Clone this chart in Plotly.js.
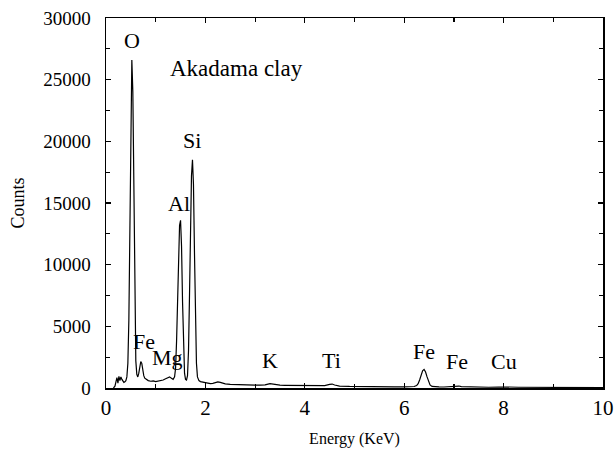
<!DOCTYPE html>
<html>
<head>
<meta charset="utf-8">
<script src="https://cdn.plot.ly/plotly-3.0.1.min.js"></script>
<style>
  html, body { margin: 0; padding: 0; background: #fff; }
  #chart { width: 616px; height: 454px; }
</style>
</head>
<body>
<div id="chart"></div>
<script>
// EDS spectrum of Akadama clay: energy (keV) vs counts
const energy = [
  0.15, 0.18, 0.20, 0.22, 0.24, 0.26, 0.28, 0.30, 0.32, 0.34, 0.36, 0.38, 0.40,
  0.42, 0.44, 0.46, 0.48, 0.50, 0.52, 0.54, 0.56, 0.58, 0.60, 0.62, 0.64, 0.66,
  0.68, 0.70, 0.72, 0.74, 0.76, 0.78, 0.80, 0.85, 0.90, 0.95, 1.00, 1.05, 1.10,
  1.15, 1.20, 1.25, 1.28, 1.31, 1.35, 1.38, 1.40, 1.42, 1.44, 1.46, 1.48, 1.50,
  1.52, 1.54, 1.56, 1.58, 1.60, 1.62, 1.64, 1.66, 1.68, 1.70, 1.72, 1.74, 1.76,
  1.78, 1.80, 1.82, 1.84, 1.87, 1.90, 1.95, 2.00, 2.05, 2.10, 2.15, 2.20, 2.25,
  2.30, 2.35, 2.40, 2.50, 2.60, 2.70, 2.80, 2.90, 3.00, 3.10, 3.20, 3.30, 3.35,
  3.40, 3.50, 3.60, 3.80, 4.00, 4.20, 4.40, 4.50, 4.55, 4.60, 4.70, 4.90, 5.00,
  5.20, 5.40, 5.60, 5.80, 6.00, 6.10, 6.20, 6.25, 6.28, 6.31, 6.34, 6.37, 6.40,
  6.43, 6.46, 6.49, 6.52, 6.56, 6.62, 6.70, 6.80, 6.90, 7.00, 7.05, 7.10, 7.15,
  7.30, 7.50, 7.70, 7.90, 8.00, 8.05, 8.10, 8.30, 8.60, 9.00, 9.40, 9.80, 10.00
];
const counts = [
  0, 150, 500, 850, 400, 950, 600, 900, 700, 500, 450, 500, 600,
  900, 2000, 5500, 13000, 22000, 26600, 24000, 15000, 6500, 2200, 1100, 900, 1200,
  1800, 2150, 2000, 1400, 1000, 800, 750, 600, 550, 580, 520, 560, 600,
  650, 750, 880, 900, 800, 700, 900, 1600, 3800, 7500, 11000, 13200, 13600,
  11500, 7000, 3000, 1200, 700, 650, 1000, 3000, 7500, 13000, 17200, 18500, 16500,
  11000, 5200, 2000, 900, 600, 520, 480, 400, 380, 360, 380, 450, 500,
  460, 380, 330, 300, 280, 260, 250, 250, 240, 240, 260, 360, 330,
  260, 230, 220, 210, 200, 180, 190, 300, 320, 240, 160, 130, 120,
  110, 100, 90, 90, 90, 90, 120, 200, 350, 650, 1050, 1400, 1510,
  1300, 900, 500, 250, 130, 100, 90, 80, 100, 170, 190, 160, 110,
  80, 70, 60, 70, 100, 110, 80, 60, 50, 45, 40, 35, 35
];

// Peak labels (element names) and where they sit, in keV / counts
const labelText = ["O", "Fe", "Mg", "Al", "Si", "K", "Ti", "Fe", "Fe", "Cu"];
const labelX = [0.52, 0.77, 1.23, 1.46, 1.73, 3.30, 4.53, 6.40, 7.06, 8.01];
const labelY = [28200, 3800, 2500, 15000, 20100, 2270, 2190, 3000, 2110, 2110];

const sampleName = "Akadama clay";

const serif = "Liberation Serif, Times New Roman, serif";

const annotations = labelText.map((t, i) => ({
  text: t, x: labelX[i], y: labelY[i], xref: "x", yref: "y",
  showarrow: false, xanchor: "center", yanchor: "middle",
  font: { family: serif, size: 22, color: "#000" }
}));
annotations.push({
  text: sampleName, x: 2.62, y: 25900, xref: "x", yref: "y",
  showarrow: false, xanchor: "center", yanchor: "middle",
  font: { family: serif, size: 23, color: "#000" }
});

const trace = {
  x: energy, y: counts, type: "scatter", mode: "lines",
  line: { color: "#000", width: 1.2 }, hoverinfo: "skip"
};

const layout = {
  width: 616, height: 454,
  margin: { l: 106, r: 13, t: 18, b: 66 },
  paper_bgcolor: "#fff", plot_bgcolor: "#fff",
  showlegend: false,
  font: { family: serif, color: "#000" },
  xaxis: {
    range: [0, 10], dtick: 2, tick0: 0,
    ticks: "inside", ticklen: 5, tickwidth: 1.2, tickcolor: "#000",
    minor: { dtick: 1, ticks: "inside", ticklen: 4, tickwidth: 1.2, tickcolor: "#000" },
    showline: true, linecolor: "#000", linewidth: 1.5, mirror: "allticks",
    showgrid: false, zeroline: false,
    tickfont: { family: serif, size: 21, color: "#000" },
    title: { text: "Energy (KeV)", font: { family: serif, size: 16, color: "#000" }, standoff: 14 }
  },
  yaxis: {
    range: [0, 30000], dtick: 5000, tick0: 0, tickformat: "d",
    ticks: "inside", ticklen: 5, tickwidth: 1.2, tickcolor: "#000",
    minor: { dtick: 2500, ticks: "inside", ticklen: 4, tickwidth: 1.2, tickcolor: "#000" },
    showline: true, linecolor: "#000", linewidth: 1.5, mirror: "allticks",
    showgrid: false, zeroline: false, ticklabelstandoff: 10,
    tickfont: { family: serif, size: 19, color: "#000" },
    title: { text: "Counts", font: { family: serif, size: 18, color: "#000" }, standoff: 14 }
  },
  annotations: annotations
};

Plotly.newPlot("chart", [trace], layout, { staticPlot: true, displayModeBar: false });
</script>
</body>
</html>
